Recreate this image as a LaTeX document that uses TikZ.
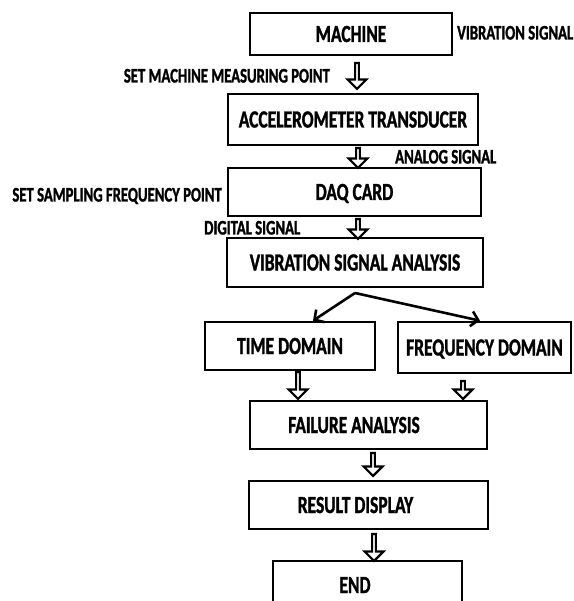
\documentclass[tikz,border=0pt]{standalone}
\usepackage{fontspec}
\setmainfont[FakeStretch=0.71, BoldFont={Carlito Bold}, BoldFeatures={FakeBold=1.3}]{Carlito}
\usetikzlibrary{shapes.arrows,arrows.meta}

\tikzset{
  blk/.style={draw, line width=2.6pt, inner sep=0pt, text height=16pt, text depth=0pt,
    font=\fontsize{24.6}{27}\selectfont\bfseries},
  lbl/.style={inner sep=0pt, text height=13pt, text depth=0pt,
    font=\fontsize{20.7}{22}\selectfont\bfseries},
  hollow/.style={single arrow, draw, line width=2.2pt, fill=white, inner sep=0pt,
    minimum width=19pt, single arrow head extend=4.5pt, rotate=-90},
  fan/.style={line width=2.6pt, -{Straight Barb[length=7pt,width=15pt]}}
}

\begin{document}
\begin{tikzpicture}[x=1pt, y=-1pt]
    \useasboundingbox (0,0) rectangle (573,601);
    \clip (0,0) rectangle (573,601);

    % Define blocks
    \node[blk, minimum width=202pt, minimum height=42pt] (machine) at (351,34) {MACHINE};
    \node[blk, minimum width=250pt, minimum height=51pt] (acc) at (353,119.5) {ACCELEROMETER TRANSDUCER};
    \node[blk, minimum width=253pt, minimum height=48pt] (daq) at (354.5,192) {DAQ CARD};
    \node[blk, minimum width=256pt, minimum height=49pt] (vsa) at (355,262.5) {VIBRATION SIGNAL ANALYSIS};
    \node[blk, minimum width=170pt, minimum height=48pt] (time) at (290,346) {TIME DOMAIN};
    \node[blk, minimum width=173pt, minimum height=51pt] (freq) at (484.5,347.5) {FREQUENCY DOMAIN};
    \node[blk, minimum width=237pt, minimum height=48pt] (fail) at (368.5,425) {\hspace*{-29pt}FAILURE ANALYSIS};
    \node[blk, minimum width=239pt, minimum height=48pt] (result) at (368.5,505) {\hspace*{-26pt}RESULT DISPLAY};
    \node[blk, minimum width=189pt, minimum height=48pt] (end) at (367.5,585) {\hspace*{-25pt}END};

    % Side labels
    \node[lbl, anchor=west] (vib) at (457,33) {VIBRATION SIGNAL};
    \node[lbl, anchor=east] (setmp) at (330,76) {SET MACHINE MEASURING POINT};
    \node[lbl, anchor=west] (analog) at (395,157) {ANALOG SIGNAL};
    \node[lbl, anchor=east] (setsf) at (222,195) {SET SAMPLING FREQUENCY POINT};
    \node[lbl, anchor=west] (digital) at (204,228) {DIGITAL SIGNAL};

    % Hollow arrows between blocks
    \node[hollow, minimum height=26pt] (a1) at (357,75) {};
    \node[hollow, minimum height=20pt] (a2) at (358,157) {};
    \node[hollow, minimum height=20pt] (a3) at (358,228) {};
    \node[hollow, minimum height=27pt] (a4) at (298,384.5) {};
    \node[hollow, minimum height=18pt] (a5) at (463,389) {};
    \node[hollow, minimum height=23pt] (a6) at (373,463.5) {};
    \node[hollow, minimum height=27pt] (a7) at (374,546.5) {};

    % Split into the two domains
    \coordinate (fork) at (355,293);
    \draw[fan] (fork) -- (time.north -| 313,0);
    \draw[fan] (fork) -- (freq.north -| 480,0);
\end{tikzpicture}
\end{document}
